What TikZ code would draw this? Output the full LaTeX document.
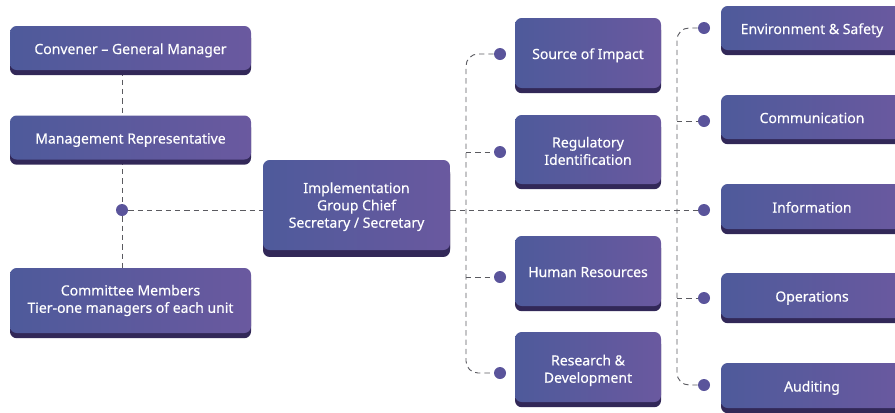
\documentclass[tikz,border=0pt]{standalone}
\usepackage{fontspec}
\setmainfont{Noto Sans}[FakeBold=0.3]
\usetikzlibrary{shadows,calc,backgrounds}
\definecolor{gl}{RGB}{78,90,155}
\definecolor{gr}{RGB}{106,89,159}
\definecolor{shc}{RGB}{50,40,88}
\definecolor{dotc}{RGB}{90,84,155}
\definecolor{dashc}{RGB}{90,90,96}
\tikzset{
  box/.style={rounded corners=5pt, shading=axis, left color=gl, right color=gr, shading angle=90,
    draw=none, text=white, align=center, inner sep=0pt, font=\fontsize{10.5}{13}\selectfont,
    execute at begin node={\rule{0pt}{11.6pt}},
    execute at end node={\rule[-2.6pt]{0pt}{2.6pt}},
    drop shadow={shadow xshift=0pt, shadow yshift=-3.9pt, fill=shc, opacity=1}},
  textdown/.style={execute at begin node={\rule{0pt}{#1}}},
  lbox/.style={box, minimum width=241*0.75pt},
  cbox/.style={box, minimum width=146*0.75pt, minimum height=70*0.75pt},
  rbox/.style={box, minimum width=182*0.75pt, minimum height=45*0.75pt},
  dotn/.style={circle, fill=dotc, inner sep=0pt, minimum size=9pt},
  conn/.style={draw=dashc, dashed, dash pattern=on 4pt off 3pt, line width=0.7pt},
}
\begin{document}
\begin{tikzpicture}[x=0.75pt,y=-0.75pt]
\useasboundingbox (0,0) rectangle (895,412);
% left column
\node[lbox, minimum height=44*0.75pt] (conv) at (130.5,48) {Convener -- General Manager};
\node[lbox, minimum height=44*0.75pt] (mgmt) at (130.5,137.5) {Management Representative};
\node[lbox, minimum height=65*0.75pt] (memb) at (130.5,300.5) {Committee Members\\Tier-one managers of each unit};
\node[dotn] (J) at (122,210) {};
% centre
\node[box, textdown=36.6pt, minimum width=187*0.75pt, minimum height=90*0.75pt,
  drop shadow={shadow xshift=0pt, shadow yshift=-5.2pt, fill=shc, opacity=1}] (impl) at (356.5,205) {Implementation\\Group Chief\\Secretary / Secretary};
% middle column
\node[cbox] (src) at (588,53) {Source of Impact};
\node[cbox, textdown=25.5pt, minimum height=69*0.75pt] (reg) at (588,149.5) {Regulatory\\Identification};
\node[cbox] (hr) at (588,271) {Human Resources};
\node[cbox, textdown=26.2pt] (rd) at (588,367) {Research \&\\Development};
\node[dotn] (dsrc) at (500,54) {};
\node[dotn] (dreg) at (500,152) {};
\node[dotn] (dhr) at (500,277) {};
\node[dotn] (drd) at (500,373) {};
% right column
\node[rbox, minimum height=44*0.75pt] (env) at (812,28) {Environment \& Safety};
\node[rbox, minimum height=44*0.75pt] (com) at (812,117) {Communication};
\node[rbox] (inf) at (812,206.5) {Information};
\node[rbox] (ops) at (812,295.5) {Operations};
\node[rbox] (aud) at (812,385.5) {Auditing};
\node[dotn] (denv) at (704,28) {};
\node[dotn] (dcom) at (704,121) {};
\node[dotn] (dinf) at (704,210) {};
\node[dotn] (dops) at (704,298) {};
\node[dotn] (daud) at (704,385) {};
\coordinate (mx) at (466,0);
\coordinate (rx) at (677,0);
\begin{scope}[on background layer]
\draw[conn] (J |- conv.south) -- (J |- mgmt.north);
\draw[conn] (J |- mgmt.south) -- (J);
\draw[conn] (J) -- (J |- memb.north);
\draw[conn] (J) -- (J -| impl.west);
\draw[conn] (dinf -| impl.east) -- (dinf);
\draw[conn, rounded corners=9pt] (dsrc) -- (dsrc -| mx) -- (drd -| mx) -- (drd);
\draw[conn] (dreg -| mx) -- (dreg);
\draw[conn] (dhr -| mx) -- (dhr);
\draw[conn, rounded corners=9pt] (denv) -- (denv -| rx) -- (daud -| rx) -- (daud);
\draw[conn] (dcom -| rx) -- (dcom);
\draw[conn] (dops -| rx) -- (dops);
\end{scope}
\end{tikzpicture}
\end{document}
